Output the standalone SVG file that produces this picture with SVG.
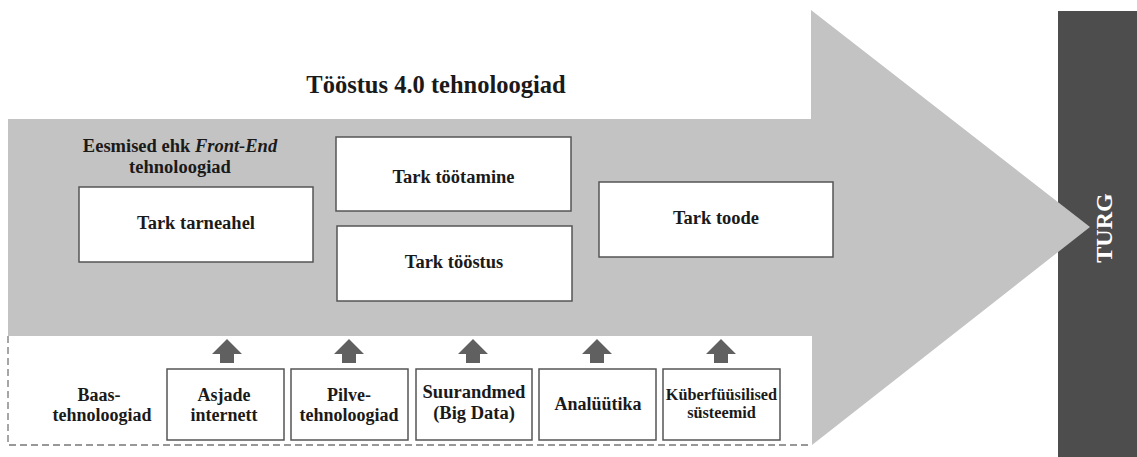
<svg xmlns="http://www.w3.org/2000/svg" width="1137" height="457" viewBox="0 0 1137 457">
  <style>
    .lbl { font-family: "Liberation Serif", "Times New Roman", serif; font-weight: bold; fill: #1a1a1a; text-anchor: middle; }
    .box { fill: #ffffff; stroke: #555555; stroke-width: 1.5; }
    .up { fill: #606060; }
  </style>
  <defs>
    <!-- small upward block arrow, origin at its tip centre -->
    <path id="uparrow" d="M0,0 L15,15 L7,15 L7,24 L-7,24 L-7,15 L-15,15 Z"/>
  </defs>

  <rect width="1137" height="457" fill="#ffffff"/>

  <!-- market block (the arrow tip overlaps it) -->
  <g id="market">
    <rect x="1058" y="11" width="79" height="446" fill="#4d4d4d"/>
  </g>

  <!-- big grey arrow of industry 4.0 technologies -->
  <polygon id="main-arrow" fill="#c3c3c3" points="8,119 811,119 811,10 1090,227 812,445 812,336 8,336"/>

  <text class="lbl" transform="translate(1112,228) rotate(-90)" style="fill:#ffffff" font-size="24">TURG</text>

  <!-- base technologies band -->
  <g id="base-band">
    <rect x="8" y="336" width="804" height="109" fill="#ffffff"/>
    <path d="M8,336 L8,445 L812,445" fill="none" stroke="#777777" stroke-width="1.3" stroke-dasharray="7,4"/>
  </g>

  <text class="lbl" x="436" y="93" font-size="24.5">Tööstus 4.0 tehnoloogiad</text>

  <g id="front-end-label">
    <text class="lbl" x="180" y="152" font-size="18.5">Eesmised ehk <tspan font-style="italic">Front-End</tspan></text>
    <text class="lbl" x="180" y="173" font-size="18.5">tehnoloogiad</text>
  </g>

  <g id="smart-supply-chain">
    <rect class="box" x="79" y="187" width="234" height="75"/>
    <text class="lbl" x="196" y="229" font-size="18.5">Tark tarneahel</text>
  </g>
  <g id="smart-working">
    <rect class="box" x="336" y="137" width="235" height="74"/>
    <text class="lbl" x="453.5" y="183" font-size="18.5">Tark töötamine</text>
  </g>
  <g id="smart-manufacturing">
    <rect class="box" x="337" y="226" width="235" height="75"/>
    <text class="lbl" x="454" y="268" font-size="18.5">Tark tööstus</text>
  </g>
  <g id="smart-product">
    <rect class="box" x="599" y="182" width="234" height="75"/>
    <text class="lbl" x="716" y="224" font-size="18.5">Tark toode</text>
  </g>

  <g id="base-label">
    <text class="lbl" x="99" y="401" font-size="18">Baas-</text>
    <text class="lbl" x="102" y="421" font-size="18">tehnoloogiad</text>
  </g>

  <g id="iot">
    <rect class="box" x="167" y="369" width="117" height="71"/>
    <text class="lbl" x="224" y="401" font-size="18">Asjade</text>
    <text class="lbl" x="224" y="421" font-size="18">internett</text>
  </g>
  <g id="cloud">
    <rect class="box" x="291" y="369" width="117" height="71"/>
    <text class="lbl" x="349" y="401" font-size="18">Pilve-</text>
    <text class="lbl" x="349" y="421" font-size="18">tehnoloogiad</text>
  </g>
  <g id="big-data">
    <rect class="box" x="416" y="369" width="116" height="71"/>
    <text class="lbl" x="474" y="398" font-size="18.5">Suurandmed</text>
    <text class="lbl" x="474" y="419" font-size="18.5">(Big Data)</text>
  </g>
  <g id="analytics">
    <rect class="box" x="539" y="369" width="117" height="71"/>
    <text class="lbl" x="598" y="410" font-size="18">Analüütika</text>
  </g>
  <g id="cyber-physical">
    <rect class="box" x="663" y="369" width="117" height="71"/>
    <text class="lbl" x="721.5" y="400" font-size="16.3">Küberfüüsilised</text>
    <text class="lbl" x="721.5" y="418" font-size="16.3">süsteemid</text>
  </g>

  <!-- upward connectors from base technologies -->
  <g id="connectors" class="up">
    <use href="#uparrow" x="227" y="339"/>
    <use href="#uparrow" x="349" y="339"/>
    <use href="#uparrow" x="473" y="339"/>
    <use href="#uparrow" x="597" y="339"/>
    <use href="#uparrow" x="721" y="339"/>
  </g>
</svg>
